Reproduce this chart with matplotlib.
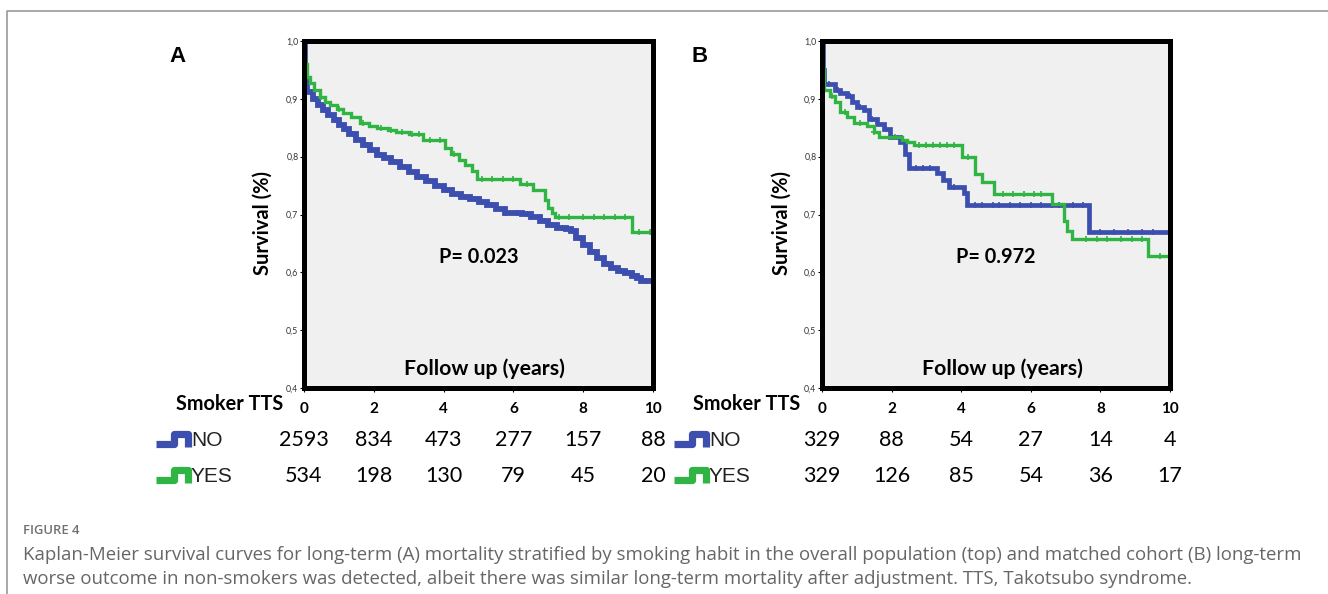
import numpy as np
import matplotlib.pyplot as plt
from matplotlib.lines import Line2D
from matplotlib import transforms

plt.rcParams['font.family'] = ['Lato', 'DejaVu Sans']

# ---- data ----
# panel A, overall population
a_no_t = [0, 0.02, 0.05, 0.1, 0.25, 0.4, 0.55, 0.7, 0.85, 1.0, 1.15, 1.3, 1.5, 1.7, 1.9, 2.1, 2.3,
          2.5, 2.75, 3.0, 3.25, 3.5, 3.75, 4.0, 4.25, 4.5, 4.75, 5.0, 5.25, 5.5, 5.75, 6.0, 6.25,
          6.5, 6.75, 7.0, 7.25, 7.5, 7.65, 7.8, 8.0, 8.2, 8.4, 8.6, 8.8, 9.0, 9.2, 9.4, 9.55,
          9.65, 10]
a_no_s = [1.0, 0.95, 0.925, 0.912, 0.900, 0.890, 0.881, 0.872, 0.863, 0.855, 0.847, 0.840, 0.829,
          0.820, 0.811, 0.803, 0.797, 0.790, 0.782, 0.773, 0.764, 0.758, 0.750, 0.742, 0.735,
          0.731, 0.726, 0.722, 0.717, 0.710, 0.703, 0.702, 0.701, 0.695, 0.688, 0.682, 0.677,
          0.675, 0.672, 0.660, 0.648, 0.636, 0.624, 0.615, 0.608, 0.603, 0.599, 0.594, 0.590,
          0.585, 0.585]
a_yes_t = [0, 0.03, 0.08, 0.17, 0.3, 0.46, 0.6, 0.74, 0.95, 1.13, 1.35, 1.6, 1.85, 2.08, 2.4, 2.65,
           3.0, 3.42, 4.05, 4.2, 4.45, 4.62, 4.8, 4.95, 6.19, 6.57, 6.9, 7.0, 7.1, 7.19, 9.4, 10]
a_yes_s = [1.0, 0.96, 0.938, 0.927, 0.915, 0.904, 0.895, 0.889, 0.882, 0.875, 0.868, 0.858, 0.853,
           0.849, 0.846, 0.843, 0.84, 0.829, 0.815, 0.805, 0.795, 0.785, 0.775, 0.762, 0.753, 0.742,
           0.725, 0.712, 0.703, 0.696, 0.669, 0.669]
a_no_cens = [0.3, 0.6, 0.9, 1.2, 1.4, 1.8, 2.2, 2.6, 2.9, 3.3, 3.6, 4.1, 4.4, 4.6, 4.9, 5.1, 5.4,
             5.8, 6.1, 6.4, 6.9, 7.1, 7.4, 7.9, 8.3, 8.7, 9.1, 9.3, 9.5, 9.8, 9.95]
a_yes_cens = [0.5, 1.0, 1.7, 2.2, 2.5, 2.8, 3.1, 3.3, 3.6, 3.9, 4.3, 5.1, 5.4, 5.7, 6.0, 6.4, 7.3,
              7.6, 8.0, 8.3, 8.6, 8.9, 9.2, 9.6, 9.9]

# panel B, matched cohort
b_no_t = [0, 0.03, 0.06, 0.38, 0.53, 0.72, 0.86, 1.0, 1.2, 1.34, 1.58, 1.77, 1.96, 2.25, 2.39, 2.49,
          3.3, 3.49, 3.64, 4.07, 4.16, 7.66, 10]
b_no_s = [1.0, 0.95, 0.925, 0.915, 0.91, 0.905, 0.894, 0.886, 0.88, 0.865, 0.856, 0.848, 0.834,
          0.825, 0.805, 0.78, 0.771, 0.76, 0.748, 0.737, 0.716, 0.67, 0.67]
b_yes_t = [0, 0.03, 0.06, 0.24, 0.38, 0.53, 0.72, 0.91, 1.29, 1.48, 1.63, 2.3, 2.45, 2.63, 4.02, 4.4,
           4.6, 4.93, 6.6, 6.94, 7.05, 7.18, 9.38, 10]
b_yes_s = [1.0, 0.95, 0.915, 0.905, 0.894, 0.877, 0.868, 0.859, 0.853, 0.842, 0.834, 0.829, 0.826,
           0.82, 0.80, 0.77, 0.756, 0.735, 0.718, 0.688, 0.672, 0.658, 0.629, 0.629]
b_no_cens = [0.2, 0.45, 0.8, 1.1, 1.45, 1.85, 2.7, 2.9, 3.1, 3.8, 4.4, 4.6, 4.9, 5.1, 5.4, 5.7, 6.0,
             6.3, 6.6, 6.8, 7.2, 7.5, 8.0, 8.4, 8.8, 9.2, 9.5]
b_yes_cens = [0.3, 0.65, 1.1, 1.5, 2.1, 2.8, 3.0, 3.2, 3.4, 3.6, 3.8, 4.2, 5.2, 5.5, 5.8, 6.1, 6.3,
              7.6, 7.9, 8.2, 8.6, 8.9, 9.2, 9.7]

years = [0, 2, 4, 6, 8, 10]
risk_a_no = [2593, 834, 473, 277, 157, 88]
risk_a_yes = [534, 198, 130, 79, 45, 20]
risk_b_no = [329, 88, 54, 27, 14, 4]
risk_b_yes = [329, 126, 85, 54, 36, 17]
p_values = ['P= 0.023', 'P= 0.972']
groups = ['NO', 'YES']

caption_1 = ('Kaplan-Meier survival curves for long-term (A) mortality stratified by smoking habit in the '
             'overall population (top) and matched cohort (B) long-term')
caption_2 = ('worse outcome in non-smokers was detected, albeit there was similar long-term mortality '
             'after adjustment. TTS, Takotsubo syndrome.')

BLUE = '#3c4fae'
GREEN = '#30b443'
W, H = 1328, 594


def fx(px):
    return px / W


def fy(py):
    return 1 - py / H


def step_at(t, s, pts):
    idx = np.searchsorted(np.asarray(t), np.asarray(pts), side='right') - 1
    return np.asarray(s)[idx]


fig = plt.figure(figsize=(W / 100, H / 100), dpi=100)

# thin page frame
fig.add_artist(Line2D([fx(6.5), fx(6.5), 1], [0, fy(11), fy(11)], color='#9a9a9a', lw=1.2))

panels = [
    dict(left=304, right=653, letter='A', lx=178, ylab=263, smk=283, icon=155, blue_lw=4.2,
         no=(a_no_t, a_no_s, a_no_cens), yes=(a_yes_t, a_yes_s, a_yes_cens),
         risk=(risk_a_no, risk_a_yes), p=p_values[0]),
    dict(left=822, right=1170, letter='B', lx=700, ylab=782, smk=800, icon=673, blue_lw=3.4,
         no=(b_no_t, b_no_s, b_no_cens), yes=(b_yes_t, b_yes_s, b_yes_cens),
         risk=(risk_b_no, risk_b_yes), p=p_values[1]),
]

top, bottom = 41, 388
for pn in panels:
    ax = fig.add_axes([fx(pn['left']), fy(bottom), (pn['right'] - pn['left']) / W, (bottom - top) / H])
    ax.set_facecolor('#f0f0f0')
    ax.set_xlim(0, 10)
    ax.set_ylim(0.4, 1.0)
    for sp in ax.spines.values():
        sp.set_linewidth(3.6)
        sp.set_color('black')

    for (t, s, cens), col, lw in [(pn['no'], BLUE, pn['blue_lw']), (pn['yes'], GREEN, 2.4)]:
        ax.step(t, s, where='post', color=col, lw=lw, solid_joinstyle='miter')
        ax.plot(cens, step_at(t, s, cens), ls='none', marker='+', ms=5, mew=1.2, color=col)

    ax.set_yticks([0.4, 0.5, 0.6, 0.7, 0.8, 0.9, 1.0])
    ax.set_yticklabels(['0,4', '0,5', '0,6', '0,7', '0,8', '0,9', '1,0'])
    ax.tick_params(axis='y', length=3, width=0.8, pad=1, labelsize=6.3, labelcolor='#333333')
    ax.set_xticks(years)
    ax.set_xticklabels([str(y) for y in years], fontweight='bold')
    ax.tick_params(axis='x', length=3, width=0.8, pad=7, labelsize=11)

    ax.text(5.0, 0.626, pn['p'], ha='center', va='center', fontsize=14.3, fontweight='bold')
    ax.text(5.18, 0.434, 'Follow up (years)', ha='center', va='center', fontsize=15.3,
            fontweight='bold')

    fig.text(fx(pn['lx']), fy(56), pn['letter'], ha='center', va='center', fontsize=16,
             fontweight='bold', family=['Liberation Sans', 'DejaVu Sans'])
    fig.text(fx(pn['ylab']), fy(223), 'Survival (%)', ha='center', va='center', rotation=90,
             fontsize=14.5, fontweight='bold')
    fig.text(fx(pn['smk']), fy(404), 'Smoker TTS', ha='right', va='center', fontsize=14.3,
             fontweight='bold')

    tr = transforms.blended_transform_factory(ax.transData, fig.transFigure)
    for row, (counts, ry) in enumerate(zip(pn['risk'], [440, 476])):
        for yr, c in zip(years, counts):
            ax.text(yr, fy(ry), str(c), transform=tr, ha='center', va='center', fontsize=15.5,
                    clip_on=False)
        col = BLUE if row == 0 else GREEN
        x0 = pn['icon']
        dy = ry + 4
        fig.add_artist(Line2D([fx(x0 + 1), fx(x0 + 19), fx(x0 + 19), fx(x0 + 33), fx(x0 + 33)],
                              [fy(dy), fy(dy), fy(dy - 10), fy(dy - 10), fy(dy + 3)],
                              color=col, lw=5.2, solid_joinstyle='round', solid_capstyle='butt'))
        fig.text(fx(x0 + 36), fy(ry + 1), groups[row], ha='left', va='center', fontsize=15,
                 color='#222222', family=['Liberation Sans Narrow', 'Liberation Sans', 'DejaVu Sans'])

cap_font = ['Open Sans', 'DejaVu Sans']
fig.text(fx(23), fy(531), 'FIGURE 4', ha='left', va='center', fontsize=9.4, color='#707070',
         fontweight='semibold', family=cap_font)
fig.text(fx(23), fy(555), caption_1, ha='left', va='center', fontsize=13.4, color='#666666',
         family=cap_font)
fig.text(fx(23), fy(579), caption_2, ha='left', va='center', fontsize=13.4, color='#666666',
         family=cap_font)

fig.savefig('out.png', dpi=100)
